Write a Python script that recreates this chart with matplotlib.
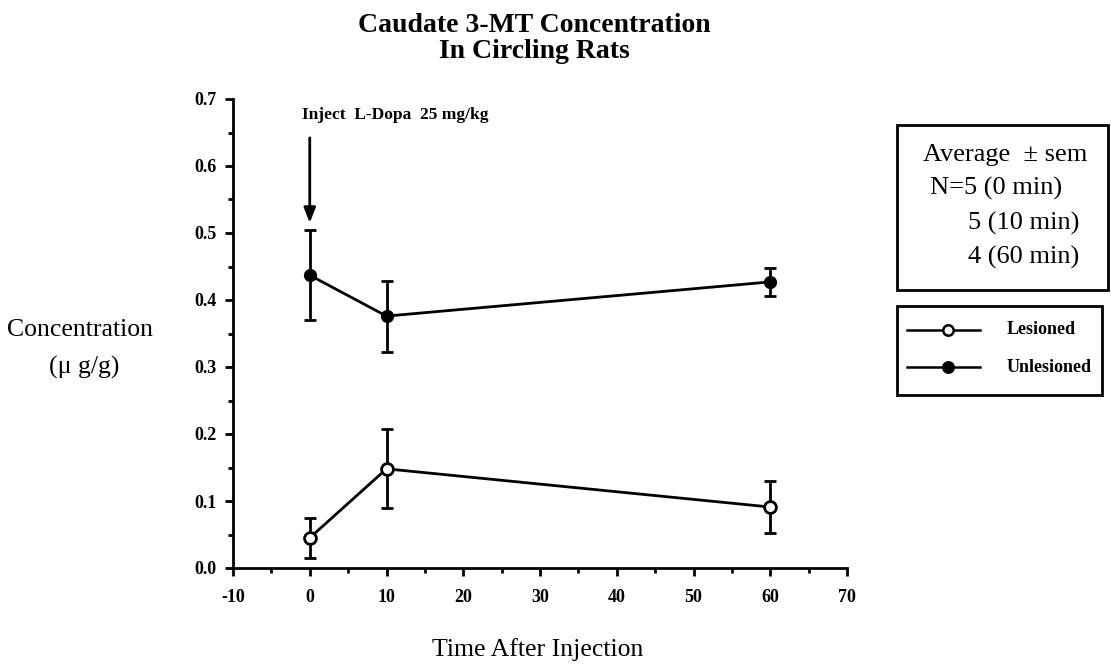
import matplotlib
matplotlib.use("Agg")
import matplotlib.pyplot as plt
from matplotlib.lines import Line2D
from matplotlib.patches import Rectangle
from matplotlib.ticker import MultipleLocator, FormatStrFormatter

# ---- data ----
time_min = [0, 10, 60]
lesioned = [0.045, 0.148, 0.091]
lesioned_sem = [0.030, 0.059, 0.039]
unlesioned = [0.437, 0.376, 0.427]
unlesioned_sem = [0.067, 0.053, 0.021]
series_labels = ["Lesioned", "Unlesioned"]
info_lines = ["Average  \u00b1 sem", "N=5 (0 min)", "5 (10 min)", "4 (60 min)"]
title_lines = ["Caudate 3-MT Concentration", "In Circling Rats"]
annotation_text = "Inject  L-Dopa  25 mg/kg"

plt.rcParams['font.family'] = ['Liberation Serif', 'DejaVu Serif']
plt.rcParams['axes.unicode_minus'] = False

W, H = 1111, 669
fig = plt.figure(figsize=(W / 100, H / 100), dpi=100)

def fx(px):
    return px / W

def fy(py):
    return 1 - py / H

ax = fig.add_axes([fx(233), fy(568), fx(847) - fx(233), fy(99) - fy(568)])

lw = 2.0
ax.errorbar(time_min, unlesioned, yerr=unlesioned_sem, color='black', lw=lw,
            marker='o', markersize=8.5, markerfacecolor='black', markeredgecolor='black',
            elinewidth=lw, capsize=4, capthick=lw, zorder=3)
ax.errorbar(time_min, lesioned, yerr=lesioned_sem, color='black', lw=lw,
            marker='o', markersize=8.5, markerfacecolor='white', markeredgecolor='black',
            markeredgewidth=2.0, elinewidth=lw, capsize=4, capthick=lw, zorder=3)

ax.set_xlim(-10, 70)
ax.set_ylim(0, 0.7)
ax.xaxis.set_major_locator(MultipleLocator(10))
ax.xaxis.set_minor_locator(MultipleLocator(5))
ax.yaxis.set_major_locator(MultipleLocator(0.1))
ax.yaxis.set_minor_locator(MultipleLocator(0.05))
ax.yaxis.set_major_formatter(FormatStrFormatter('%.1f'))
for s in ['top', 'right']:
    ax.spines[s].set_visible(False)
for s in ['left', 'bottom']:
    ax.spines[s].set_linewidth(lw)
ax.tick_params(which='major', direction='out', length=6, width=lw, labelsize=13, pad=6)
ax.tick_params(which='minor', direction='out', length=3.5, width=lw)
ax.tick_params(axis='x', pad=9)
for lab in ax.get_xticklabels() + ax.get_yticklabels():
    lab.set_fontweight('bold')

# annotation + arrow
ax.text(-1.0, 0.676, annotation_text, fontsize=12.5, fontweight='bold',
        ha='left', va='center', transform=ax.transData)
ax.annotate('', xy=(0, 0.515), xytext=(0, 0.642),
            arrowprops=dict(arrowstyle='-|>,head_length=0.9,head_width=0.35',
                            color='black', lw=2.0, shrinkA=0, shrinkB=0))

# title
fig.text(fx(534), fy(26), title_lines[0], fontsize=20, fontweight='bold', ha='center', va='center')
fig.text(fx(534), fy(51), title_lines[1], fontsize=20, fontweight='bold', ha='center', va='center')

# axis labels
fig.text(fx(80), fy(330), "Concentration", fontsize=18.5, ha='center', va='center')
fig.text(fx(84), fy(367), "(\u03bc g/g)", fontsize=18.5, ha='center', va='center')
fig.text(fx(538), fy(650), "Time After Injection", fontsize=18.5, ha='center', va='center')

# info box
fig.patches.append(Rectangle((fx(897), fy(290)), fx(1108) - fx(897), fy(125) - fy(290),
                             transform=fig.transFigure, fill=False, lw=2.0, ec='black'))
info_pos = [(1005, 155), (996, 188), (1024, 223), (1024, 257)]
for t, (px, py) in zip(info_lines, info_pos):
    fig.text(fx(px), fy(py), t, fontsize=19, ha='center', va='center')

# legend box
fig.patches.append(Rectangle((fx(897), fy(395)), fx(1102) - fx(897), fy(306) - fy(395),
                             transform=fig.transFigure, fill=False, lw=2.0, ec='black'))
leg_y = [330, 367]
faces = ['white', 'black']
for lab, py, fc in zip(series_labels, leg_y, faces):
    fig.lines.append(Line2D([fx(907), fx(980)], [fy(py), fy(py)], transform=fig.transFigure,
                            color='black', lw=1.8))
    fig.lines.append(Line2D([fx(948)], [fy(py)], transform=fig.transFigure, marker='o',
                            markersize=7.5, markerfacecolor=fc, markeredgecolor='black',
                            markeredgewidth=1.8, linestyle='none'))
    fig.text(fx(1007), fy(py), lab, fontsize=13, fontweight='bold', ha='left', va='center')

fig.savefig("out.png", dpi=100)
